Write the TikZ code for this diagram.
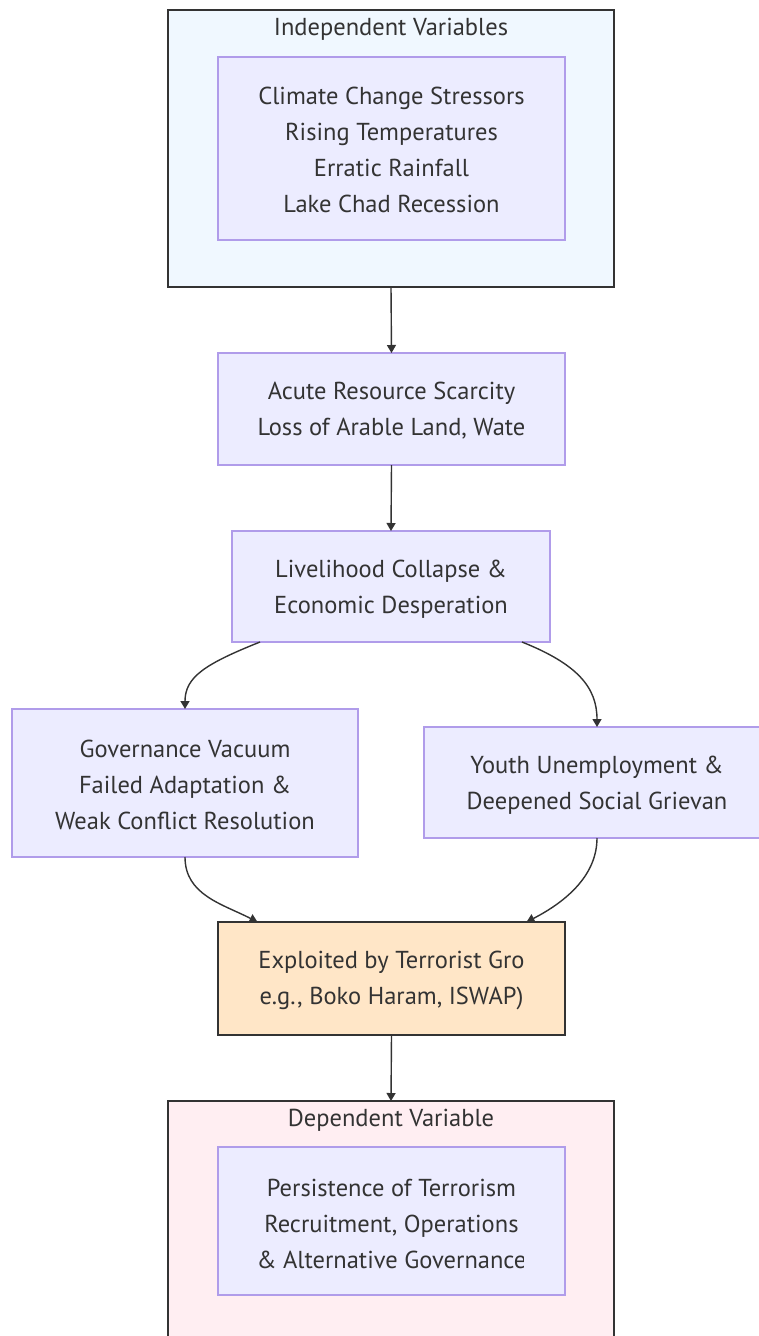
\documentclass[tikz,border=0pt]{standalone}
\usepackage{fontspec}
\setmainfont{PT Sans}
\usetikzlibrary{arrows.meta}
\definecolor{edgec}{HTML}{333333}
\definecolor{txtc}{HTML}{333333}
\definecolor{innerfill}{HTML}{ECECFF}
\definecolor{innerdraw}{HTML}{B09CEA}
\definecolor{indepfill}{HTML}{F0F8FF}
\definecolor{depfill}{HTML}{FFEEF2}
\definecolor{expfill}{HTML}{FFE6C7}
\tikzset{
  boxbase/.style={rectangle, inner sep=0pt, outer sep=0pt},
  outerbox/.style={boxbase, draw=edgec, line width=2pt},
  innerbox/.style={boxbase, draw=innerdraw, fill=innerfill, line width=1.6pt},
  expbox/.style={boxbase, draw=edgec, fill=expfill, line width=2pt},
  txt/.style={text=txtc, align=center, inner sep=0pt, font=\fontsize{24.5}{36}\selectfont},
  conn/.style={draw=edgec, line width=1.4pt, -{Triangle[width=9pt,length=8pt]}},
}
\begin{document}
\begin{tikzpicture}[x=1pt,y=-1pt]
\useasboundingbox (0,0) rectangle (759,1336);
\clip (0,0) rectangle (759,1336);
\fill[white] (0,0) rectangle (759,1336);

% Independent variables cluster
\node[outerbox, fill=indepfill, minimum width=446pt, minimum height=277pt] (indep) at (391,148.5) {};
\node[txt] (indeptitle) at (391,29) {Independent Variables};
\node[innerbox, minimum width=347pt, minimum height=183pt] (clim) at (391.5,148.5) {};
\begin{scope}
\clip ([xshift=40pt]clim.north west) rectangle ([xshift=-40pt]clim.south east);
\node[txt] (climtxt) at (391.5,150) {Climate Change Stressors\\Rising Temperatures\\Erratic Rainfall\\Lake Chad Recession};
\end{scope}

% Acute resource scarcity
\node[innerbox, minimum width=347pt, minimum height=112pt] (acute) at (391.5,409) {};
\begin{scope}
\clip ([xshift=40pt]acute.north west) rectangle ([xshift=-42pt]acute.south east);
\node[txt] (acutetxt) at (391.5,411) {Acute Resource Scarcity\\Loss of Arable Land, Wate};
\end{scope}

% Livelihood collapse
\node[innerbox, minimum width=318pt, minimum height=111pt] (liv) at (391,586.5) {};
\node[txt] (livtxt) at (391,589) {Livelihood Collapse \&\\Economic Desperation};

% Governance vacuum
\node[innerbox, minimum width=346pt, minimum height=148pt] (gov) at (185,783) {};
\node[txt] (govtxt) at (185,785) {Governance Vacuum\\Failed Adaptation \&\\Weak Conflict Resolution};

% Youth unemployment
\node[innerbox, minimum width=346pt, minimum height=111pt] (youth) at (597,782.5) {};
\node[txt] (youthtxt) at (597,785.5) {Youth Unemployment \&\\Deepened Social Grievan};

% Exploited
\node[expbox, minimum width=347pt, minimum height=113pt] (exp) at (391.5,978.5) {};
\begin{scope}
\clip ([xshift=40pt]exp.north west) rectangle ([xshift=-42pt]exp.south east);
\node[txt] (exptxt) at (391.5,980.5) {Exploited by Terrorist Gro\\e.g., Boko Haram, ISWAP)};
\end{scope}

% Dependent variable cluster
\node[outerbox, fill=depfill, minimum width=446pt, minimum height=250pt] (dep) at (391,1226) {};
\node[txt] (deptitle) at (391,1120) {Dependent Variable};
\node[innerbox, minimum width=347pt, minimum height=148pt] (pers) at (391.5,1221) {};
\begin{scope}
\clip ([xshift=40pt]pers.north west) rectangle ([xshift=-42pt]pers.south east);
\node[txt] (perstxt) at (391.5,1223.5) {Persistence of Terrorism\\Recruitment, Operations\\\& Alternative Governance};
\end{scope}

% Connectors
\draw[conn] (indep.south) -- (acute.north);
\draw[conn] (acute.south) -- (liv.north);
\draw[conn] ([xshift=-131pt]liv.south) .. controls +(-55,22) and +(0,-32) .. (gov.north);
\draw[conn] ([xshift=131pt]liv.south) .. controls +(55,22) and +(0,-40) .. (youth.north);
\draw[conn] (gov.south) .. controls +(0,38) and +(-35,-18) .. ([xshift=-134pt]exp.north);
\draw[conn] (youth.south) .. controls +(0,40) and +(35,-18) .. ([xshift=135pt]exp.north);
\draw[conn] (exp.south) -- (dep.north);
\end{tikzpicture}
\end{document}
